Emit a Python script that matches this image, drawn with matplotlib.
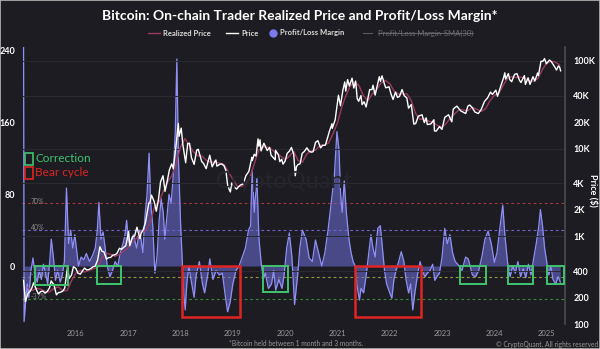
import matplotlib
matplotlib.use("Agg")
import matplotlib.pyplot as plt
from matplotlib.patches import Rectangle
from matplotlib.lines import Line2D
import pandas as pd

plt.rcParams['font.family'] = ['Lato', 'DejaVu Sans']

BG = '#1c1c22'

# ---- Trader price (USD) ----
price_dates = [
    "2015-01-01", "2015-01-14", "2015-02-01", "2015-02-15", "2015-03-01", "2015-03-12", "2015-04-01",
    "2015-04-15", "2015-05-01", "2015-05-15", "2015-06-01", "2015-06-15", "2015-07-01", "2015-07-12",
    "2015-08-01", "2015-08-18", "2015-09-01", "2015-09-15", "2015-10-01", "2015-10-15", "2015-11-04",
    "2015-11-15", "2015-12-01", "2015-12-15", "2016-01-01", "2016-01-15", "2016-02-01", "2016-02-15",
    "2016-03-01", "2016-03-15", "2016-04-01", "2016-04-15", "2016-05-01", "2016-05-15", "2016-06-01",
    "2016-06-17", "2016-07-01", "2016-07-15", "2016-08-02", "2016-08-15", "2016-09-01", "2016-09-15",
    "2016-10-01", "2016-10-15", "2016-11-01", "2016-11-15", "2016-12-01", "2016-12-15", "2017-01-04",
    "2017-01-12", "2017-02-01", "2017-02-15", "2017-03-03", "2017-03-24", "2017-04-01", "2017-04-15",
    "2017-05-01", "2017-05-25", "2017-06-01", "2017-06-12", "2017-07-01", "2017-07-16", "2017-08-01",
    "2017-08-15", "2017-09-01", "2017-09-15", "2017-10-01", "2017-10-15", "2017-11-01", "2017-11-12",
    "2017-11-28", "2017-12-17", "2017-12-22", "2018-01-06", "2018-01-17", "2018-02-06", "2018-02-20",
    "2018-03-05", "2018-03-18", "2018-04-06", "2018-04-24", "2018-05-05", "2018-05-29", "2018-06-10",
    "2018-06-29", "2018-07-24", "2018-08-10", "2018-08-28", "2018-09-05", "2018-09-12", "2018-10-01",
    "2018-10-15", "2018-11-01", "2018-11-14", "2018-11-25", "2018-12-07", "2018-12-15", "2018-12-24",
    "2019-01-10", "2019-01-28", "2019-02-08", "2019-02-24", "2019-03-15", "2019-04-02", "2019-04-23",
    "2019-05-14", "2019-05-17", "2019-05-30", "2019-06-12", "2019-06-26", "2019-07-02", "2019-07-10",
    "2019-07-17", "2019-08-06", "2019-08-29", "2019-09-15", "2019-09-25", "2019-10-24", "2019-10-26",
    "2019-11-15", "2019-11-25", "2019-12-08", "2019-12-17", "2020-01-01", "2020-01-15", "2020-02-01",
    "2020-02-14", "2020-03-01", "2020-03-12", "2020-03-20", "2020-04-01", "2020-04-15", "2020-04-29",
    "2020-05-15", "2020-06-01", "2020-06-15", "2020-07-01", "2020-07-15", "2020-08-01", "2020-08-17",
    "2020-09-05", "2020-09-20", "2020-10-08", "2020-10-21", "2020-11-05", "2020-11-24", "2020-11-26",
    "2020-12-16", "2021-01-08", "2021-01-22", "2021-02-08", "2021-02-21", "2021-02-28", "2021-03-13",
    "2021-03-25", "2021-04-13", "2021-04-25", "2021-05-08", "2021-05-19", "2021-05-29", "2021-06-14",
    "2021-06-22", "2021-07-06", "2021-07-20", "2021-08-14", "2021-08-30", "2021-09-06", "2021-09-21",
    "2021-10-01", "2021-10-20", "2021-10-28", "2021-11-08", "2021-11-26", "2021-12-04", "2021-12-27",
    "2022-01-10", "2022-01-24", "2022-02-10", "2022-02-24", "2022-03-10", "2022-03-28", "2022-04-12",
    "2022-04-30", "2022-05-12", "2022-05-31", "2022-06-18", "2022-07-01", "2022-07-19", "2022-08-14",
    "2022-08-30", "2022-09-12", "2022-09-20", "2022-10-15", "2022-11-05", "2022-11-09", "2022-11-21",
    "2022-12-14", "2022-12-31", "2023-01-20", "2023-02-15", "2023-03-10", "2023-03-20", "2023-04-14",
    "2023-05-11", "2023-06-15", "2023-06-30", "2023-07-13", "2023-07-31", "2023-08-18", "2023-09-11",
    "2023-10-01", "2023-10-24", "2023-11-15", "2023-12-05", "2023-12-18", "2024-01-11", "2024-01-23",
    "2024-02-15", "2024-03-05", "2024-03-14", "2024-03-20", "2024-04-08", "2024-04-17", "2024-05-01",
    "2024-05-21", "2024-06-07", "2024-06-24", "2024-07-05", "2024-07-29", "2024-08-05", "2024-08-24",
    "2024-09-06", "2024-09-27", "2024-10-10", "2024-10-29", "2024-11-04", "2024-11-22", "2024-12-05",
    "2024-12-17", "2024-12-30", "2025-01-20", "2025-02-03", "2025-02-27", "2025-03-10", "2025-03-24",
    "2025-04-01", "2025-04-08",
]
price_values = [
    315, 180, 225, 235, 260, 295, 245,
    220, 235, 237, 225, 235, 258, 310,
    280, 215, 228, 230, 237, 255, 450,
    330, 360, 450, 430, 380, 370, 400,
    435, 415, 417, 430, 450, 455, 535,
    760, 675, 665, 550, 570, 575, 610,
    615, 640, 730, 710, 750, 780, 1130,
    780, 990, 1010, 1270, 940, 1080, 1180,
    1420, 2400, 2400, 2950, 2500, 1930, 2700,
    4200, 4900, 3250, 4300, 5700, 6700, 5900,
    9900, 19300, 13800, 17100, 11200, 6900, 11400,
    11500, 7900, 6600, 9600, 9800, 7100, 6800,
    5900, 8400, 6200, 7100, 7400, 6300, 6600,
    6700, 6350, 5600, 3900, 3400, 3200, 4050,
    3650, 3450, 3650, 3850, 3950, 4900, 5500,
    7950, 7300, 8600, 8200, 12900, 10600, 12600,
    9400, 11500, 9500, 10300, 8400, 7450, 9550,
    8500, 7100, 7550, 6650, 7200, 8800, 9400,
    10300, 8600, 4900, 6200, 6600, 6700, 8800,
    9300, 10200, 9400, 9100, 9200, 11800, 12300,
    10200, 10900, 10900, 12800, 15600, 19200, 17000,
    21300, 40600, 30800, 46400, 57500, 45200, 61200,
    51700, 63500, 49000, 58800, 37000, 34600, 40200,
    31700, 34200, 29800, 47100, 47000, 52700, 40700,
    48200, 66000, 58400, 67500, 53700, 49300, 50600,
    41800, 36300, 44000, 38300, 39400, 47100, 40100,
    37700, 28900, 31800, 19000, 19300, 23400, 24300,
    19800, 22400, 18800, 19100, 21300, 15900, 15800,
    17800, 16550, 22700, 24300, 20200, 28200, 30500,
    26900, 25100, 30500, 31400, 29200, 26100, 25100,
    27900, 34500, 37900, 44100, 41400, 46300, 39500,
    51800, 63800, 73100, 62000, 71600, 61300, 57900,
    70100, 71600, 60200, 56700, 67900, 53900, 64100,
    53900, 66000, 58900, 72700, 67800, 98900, 98700,
    106100, 92600, 102200, 97700, 84700, 78600, 87500,
    85200, 77000,
]

# ---- Realized price of 1m-3m holders (USD), monthly ----
realized_dates = [f"{y}-{m:02d}-01" for y in range(2015, 2026) for m in range(1, 13)][1:124]
realized_values = [
    260, 240, 255, 250, 235, 232, 255, 265, 240, 240, 310,
    380, 410, 390, 410, 425, 440, 560, 640, 620, 590, 620, 680,
    740, 880, 950, 1120, 1160, 1400, 2100, 2400, 3200, 4100, 4900, 6600,
    10500, 13000, 11000, 9200, 8300, 8200, 7300, 7000, 7000, 6800, 6600, 5400,
    4500, 3700, 3700, 3850, 4700, 6800, 9600, 10500, 10400, 9700, 8800, 8200,
    7500, 8200, 9300, 7300, 7000, 8700, 9400, 9600, 10900, 11000, 11600, 14800,
    19500, 30000, 40000, 52000, 57000, 52000, 40000, 35000, 42000, 47000, 56000, 60000,
    55000, 45000, 42000, 42000, 42000, 35000, 25000, 21500, 22000, 20500, 19800, 18300,
    17500, 19500, 22500, 25000, 28000, 27500, 27000, 29500, 28000, 26500, 28500, 35000,
    40500, 42500, 52000, 63000, 66000, 64500, 65500, 63500, 59500, 58500, 63000, 79000,
    95000, 99000, 97000, 90000,
]

# ---- Profit/Loss margin (%) ----
margin_years = [
    2015.00, 2015.01, 2015.04, 2015.07, 2015.10, 2015.14, 2015.18, 2015.22, 2015.26, 2015.30,
    2015.34, 2015.38, 2015.42, 2015.46, 2015.50, 2015.53, 2015.57, 2015.61, 2015.65, 2015.70,
    2015.74, 2015.78, 2015.82, 2015.86, 2015.90, 2015.94, 2015.98, 2016.02, 2016.05, 2016.10,
    2016.15, 2016.20, 2016.26, 2016.32, 2016.37, 2016.41, 2016.44, 2016.48, 2016.52, 2016.56,
    2016.60, 2016.65, 2016.70, 2016.75, 2016.80, 2016.85, 2016.90, 2016.94, 2016.97, 2017.00,
    2017.03, 2017.10, 2017.16, 2017.22, 2017.28, 2017.32, 2017.36, 2017.40, 2017.43, 2017.47,
    2017.51, 2017.55, 2017.59, 2017.63, 2017.67, 2017.70, 2017.74, 2017.78, 2017.82, 2017.86,
    2017.90, 2017.93, 2017.96, 2018.00, 2018.03, 2018.06, 2018.09, 2018.12, 2018.16, 2018.20,
    2018.26, 2018.30, 2018.36, 2018.42, 2018.46, 2018.52, 2018.56, 2018.62, 2018.68, 2018.74,
    2018.80, 2018.86, 2018.90, 2018.95, 2019.00, 2019.06, 2019.12, 2019.18, 2019.24, 2019.30,
    2019.34, 2019.37, 2019.41, 2019.46, 2019.50, 2019.54, 2019.58, 2019.62, 2019.68, 2019.74,
    2019.78, 2019.82, 2019.88, 2019.94, 2019.98, 2020.03, 2020.08, 2020.13, 2020.18, 2020.24,
    2020.28, 2020.33, 2020.40, 2020.46, 2020.52, 2020.58, 2020.66, 2020.70, 2020.76, 2020.82,
    2020.88, 2020.94, 2020.99, 2021.03, 2021.06, 2021.09, 2021.13, 2021.17, 2021.22, 2021.26,
    2021.30, 2021.34, 2021.37, 2021.42, 2021.45, 2021.50, 2021.55, 2021.60, 2021.64, 2021.68,
    2021.72, 2021.77, 2021.82, 2021.86, 2021.90, 2021.94, 2022.00, 2022.04, 2022.08, 2022.12,
    2022.17, 2022.22, 2022.27, 2022.31, 2022.36, 2022.40, 2022.44, 2022.48, 2022.53, 2022.58,
    2022.62, 2022.67, 2022.72, 2022.77, 2022.82, 2022.86, 2022.90, 2022.95, 2023.00, 2023.05,
    2023.10, 2023.15, 2023.20, 2023.25, 2023.30, 2023.38, 2023.45, 2023.50, 2023.58, 2023.64,
    2023.70, 2023.76, 2023.82, 2023.88, 2023.94, 2024.00, 2024.05, 2024.10, 2024.16, 2024.20,
    2024.25, 2024.30, 2024.35, 2024.40, 2024.45, 2024.50, 2024.55, 2024.60, 2024.65, 2024.70,
    2024.75, 2024.80, 2024.85, 2024.88, 2024.92, 2024.96, 2025.00, 2025.04, 2025.08, 2025.12,
    2025.17, 2025.22, 2025.26,
]
margin_values = [
    250, -62, -40, -20, -35, -5, 9, -10, -18, -5,
    -15, 2, -8, -20, 5, 30, 10, -16, -5, -18,
    -10, 5, 87, 25, 40, 20, 35, 15, 0, 10,
    7, 14, 5, 12, 20, 40, 71, 30, 38, 20,
    0, -12, -5, 5, 0, 15, 25, 35, 51, 30,
    25, 35, 20, 40, 15, 55, 80, 126, 70, 45,
    -8, 10, 50, 75, 60, 30, 55, 80, 70, 100,
    150, 231, 120, 50, 10, -30, -49, -20, 0, -15,
    -35, -10, 5, -20, -30, -10, 8, -15, -5, -10,
    -8, -35, -51, -40, -20, -5, 0, 10, 20, 40,
    45, 107, 60, 98, 30, 5, -15, -8, -25, -20,
    -5, -27, -15, -25, -10, 20, 37, 10, -43, -10,
    20, 40, 30, 9, 5, 29, 10, 0, 15, 40,
    70, 100, 150, 130, 80, 60, 95, 60, 30, 15,
    5, 0, -20, -38, -25, -30, -10, 15, 35, 20,
    10, 42, 45, 20, -5, -20, -30, -36, -15, -5,
    5, 16, 5, -15, -30, -20, -49, -30, -10, 5,
    -5, -12, -8, -5, 2, -16, -12, -8, 10, 42,
    25, 35, 15, 5, 2, -5, 10, 8, -10, -12,
    -5, 10, 30, 39, 25, 4, 15, 40, 68, 35,
    5, -12, 0, -8, 5, -12, -3, -13, 2, -10,
    8, 25, 45, 63, 45, 20, 5, -10, 0, -15,
    -20, -12, -18,
]

# Reference margin levels (%)
level_values = [70, 40, -12, -37]
level_labels = ["70%", "40%", "-12%", "-37%"]
level_colors = ['#a33a3a', '#7462c8', '#9a9a3c', '#3a8a3a']

# Highlighted periods: (start, end, depth)
correction_periods = [(2015.22, 2015.85, -21), (2016.40, 2016.86, -20), (2019.58, 2020.05, -29),
                      (2023.34, 2023.84, -20), (2024.26, 2024.74, -20), (2025.00, 2025.33, -20)]
bear_periods = [(2018.03, 2019.14, -57), (2021.33, 2022.60, -57)]

year_ticks = list(range(2016, 2026))
price_ticks = [100, 200, 400, 1e3, 2e3, 4e3, 1e4, 2e4, 4e4, 1e5]
price_tick_labels = ["100", "200", "400", "1K", "2K", "4K", "10K", "20K", "40K", "100K"]
margin_ticks = [0, 80, 160, 240]


def to_year(s):
    t = pd.Timestamp(s)
    start = pd.Timestamp(year=t.year, month=1, day=1)
    end = pd.Timestamp(year=t.year + 1, month=1, day=1)
    return t.year + (t - start) / (end - start)


price_years = [to_year(d) for d in price_dates]
realized_years = [to_year(d) for d in realized_dates]

W, H = 600, 349
fig = plt.figure(figsize=(W / 100, H / 100), dpi=100, facecolor=BG)


def fx(px):
    return px / W


def fy(py):
    return 1 - py / H


ax = fig.add_axes([fx(22), fy(324), fx(565) - fx(22), fy(47) - fy(324)])
ax.set_facecolor(BG)
ax2 = ax.twinx()

ax.set_xlim(2014.97, 2025.35)
ax.set_ylim(-64.7, 244.4)
ax2.set_yscale('log')
ax2.set_ylim(100, 143900)

for s in ax.spines.values():
    s.set_visible(False)
for name, s in ax2.spines.items():
    s.set_visible(name == 'right')
ax2.spines['right'].set_color('#4a4a52')
ax2.spines['right'].set_linewidth(1.2)

# faint price grid
for v in [400, 1e3, 4e3, 1e4, 4e4, 1e5]:
    ax2.axhline(v, color='#2a2a32', lw=0.7, zorder=0)

# margin reference levels
for v, lab, c in zip(level_values, level_labels, level_colors):
    ax.axhline(v, color=c, lw=0.8, ls=(0, (2.5, 2.5)), zorder=1)
    ax.text(2015.14, v + 2.5, lab, color='#8a8a8a', fontsize=5, va='center', ha='left', zorder=2)

# margin series
ax.fill_between(margin_years, 0, margin_values, color='#6565c8', alpha=0.62, lw=0, zorder=3)
ax.plot(margin_years, margin_values, color='#9090f7', lw=0.9, zorder=4)

# price series
ax2.plot(realized_years, realized_values, color='#9c3a5e', lw=1.0, zorder=5)
ax2.plot(price_years, price_values, color='white', lw=1.0, zorder=6)

# highlighted periods
for x0, x1, d in correction_periods:
    ax2.add_patch(Rectangle((x0, d), x1 - x0, -d, transform=ax.transData, fill=False,
                            edgecolor='#3fc46e', lw=1.4, zorder=7))
for x0, x1, d in bear_periods:
    ax2.add_patch(Rectangle((x0, d), x1 - x0, -d, transform=ax.transData, fill=False,
                            edgecolor='#e02424', lw=1.8, zorder=7))

# ticks
ax.set_xticks(year_ticks)
ax.set_xticklabels([str(y) for y in year_ticks])
ax.tick_params(axis='x', length=0, pad=4.5, labelsize=5.5, labelcolor='#9a9a9a')
ax.set_yticks(margin_ticks)
ax.set_yticklabels([str(v) for v in margin_ticks])
ax.tick_params(axis='y', length=0, pad=5, labelsize=6.5, labelcolor='white')
for t in ax.get_yticklabels():
    t.set_fontweight('bold')
ax2.set_yticks(price_ticks)
ax2.set_yticklabels(price_tick_labels)
ax2.yaxis.set_minor_locator(matplotlib.ticker.NullLocator())
ax2.tick_params(axis='y', length=0, pad=6, labelsize=6.5, labelcolor='white')
for t in ax2.get_yticklabels():
    t.set_fontweight('bold')

# watermark
fig.text(fx(284), fy(182), "CryptoQuant", fontsize=17, color='#25252b', ha='center', va='center', zorder=0)

# title
fig.text(0.5, fy(16), "Bitcoin: On-chain Trader Realized Price and Profit/Loss Margin*",
         fontsize=10, fontweight='bold', color='white', ha='center', va='center')

# legend row
ly = fy(33)
fig.add_artist(Line2D([fx(148), fx(160)], [ly, ly], color='#9c3a5e', lw=1.0))
fig.text(fx(163), ly, "Realized Price", fontsize=5.5, color='#dcdcdc', va='center', fontweight='bold')
fig.add_artist(Line2D([fx(226), fx(238)], [ly, ly], color='white', lw=1.0))
fig.text(fx(241), ly, "Price", fontsize=5.5, color='#dcdcdc', va='center', fontweight='bold')
fig.add_artist(Line2D([fx(273)], [ly], marker='o', markersize=5, color='#7b7bf0', lw=0))
fig.text(fx(280), ly, "Profit/Loss Margin", fontsize=5.5, color='#dcdcdc', va='center', fontweight='bold')
fig.add_artist(Line2D([fx(363), fx(372)], [ly, ly], color='#5a5a62', lw=0.8))
sma = fig.text(fx(378), ly, "Profit/Loss Margin-SMA(30)", fontsize=5.5, color='#6e6e76', va='center')
fig.canvas.draw()
bb = sma.get_window_extent().transformed(fig.transFigure.inverted())
fig.add_artist(Line2D([bb.x0, bb.x1], [ly, ly], color='#6e6e76', lw=0.6))

# period key
fig.add_artist(Rectangle((fx(25), fy(165)), fx(8), fy(153) - fy(165), transform=fig.transFigure,
                         fill=False, edgecolor='#3fc46e', lw=1.2))
fig.text(fx(35), fy(159), "Correction", fontsize=8.5, color='#3fc46e', va='center')
fig.add_artist(Rectangle((fx(25), fy(179)), fx(8), fy(167) - fy(179), transform=fig.transFigure,
                         fill=False, edgecolor='#e02424', lw=1.2))
fig.text(fx(35), fy(173), "Bear cycle", fontsize=8.5, color='#e02424', va='center')

# axis label and footers
fig.text(fx(593), fy(190), "Price ($)", rotation=270, fontsize=6.5, fontweight='bold', color='white',
         ha='center', va='center')
fig.text(fx(229), fy(344), "*Bitcoin held between 1 month and 3 months.", fontsize=4.8, color='#9a9a9a',
         va='center')
fig.text(fx(598), fy(344), "\u00a9 CryptoQuant. All rights reserved", fontsize=4.8, color='#9a9a9a',
         va='center', ha='right')

fig.add_artist(Rectangle((0, 0), 1, 1, transform=fig.transFigure, fill=False, edgecolor='#b8b8b8', lw=1.2))

fig.savefig("out.png", dpi=100, facecolor=BG)
